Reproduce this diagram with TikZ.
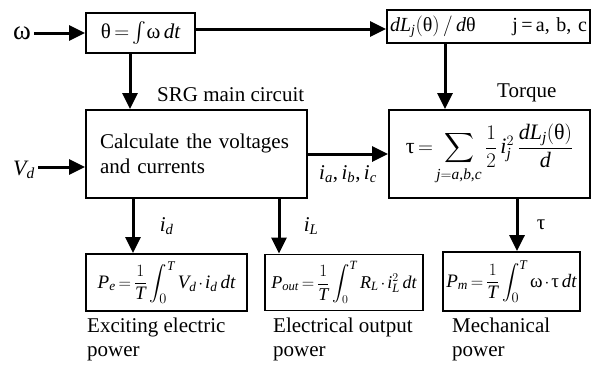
\documentclass[tikz,border=0pt]{standalone}
\usepackage{amsmath}
\usepackage{fontspec}
\setmainfont{Liberation Serif}
\newfontfamily\mathserif[NFSSFamily=lsr]{Liberation Serif}
\DeclareSymbolFont{letters}{TU}{lsr}{m}{it}
\DeclareSymbolFont{operators}{TU}{lsr}{m}{n}
\mathcode`\,="602C
\mathcode`\/="002F
\usetikzlibrary{arrows.meta}
\newcommand{\myth}{\text{θ}}
\newcommand{\myom}{\text{ω}}
\newcommand{\mytau}{\text{τ}}
\newcommand{\fs}[1]{\fontsize{#1}{#1}\selectfont\thickmuskip=3mu\medmuskip=2mu}

\begin{document}
\begin{tikzpicture}[x=1pt, y=-1pt, >={Triangle[length=16pt,width=15pt]},
	blk/.style={draw, line width=1.8pt, inner sep=0pt, font=\fs{21}},
	arr/.style={->, line width=3pt},
	lbl/.style={inner sep=0pt, font=\fontsize{21}{24}\selectfont}]
	\useasboundingbox (0,0) rectangle (591,368);
	
	\path (130,0) coordinate (xth)
	(445,0) coordinate (xdl)
	(133,0) coordinate (xid)
	(279,0) coordinate (xil)
	(517,0) coordinate (xtau)
	(0,29) coordinate (yth)
	(0,167) coordinate (yvd);
	
	% blocks
	\node[blk, minimum width=109pt, minimum height=40pt] (theta) at (140.5,33) {$\myth = \int\!\myom\, dt$};
	\node[blk, minimum width=203pt, minimum height=33pt, text width=197pt, font=\fs{20}] (dL) at (488.5,26.5)
	{$dL_j(\myth)\,/\,d\myth$\hfill j\,=\,a, b, c};
	\node[blk, minimum width=221pt, minimum height=88pt, text width=193pt, align=left,
	font=\fontsize{21}{25}\selectfont] (main) at (196.5,154) {Calculate the voltages\\and currents};
	\node[blk, minimum width=201pt, minimum height=88pt, font=\fs{22}] (torque) at (489.5,154)
	{$\mytau = \displaystyle\sum_{j=a,b,c}\frac{1}{2}\,i_j^2\,\frac{dL_j(\myth)}{d}$};
	\node[blk, minimum width=161pt, minimum height=57pt, font=\fs{19}] (pe) at (166.5,282.5)
	{$P_e = \dfrac{1}{T}\displaystyle\int_0^T V_d\cdot i_d\, dt$};
	\node[blk, minimum width=158pt, minimum height=56pt, font=\fs{18}] (pout) at (344,282.5)
	{$P_{out} = \dfrac{1}{T}\displaystyle\int_0^T R_L\cdot i_L^2\, dt$};
	\node[blk, minimum width=137pt, minimum height=59pt, font=\fs{19}] (pm) at (511.5,281.5)
	{$P_m = \dfrac{1}{T}\displaystyle\int_0^T \myom\cdot\mytau\, dt$};
	
	% inputs and titles
	\node[inner sep=3pt, font=\fs{27}] (w) at (22,33) {ω};
	\node[inner sep=3pt, font=\fs{22}] (vd) at (24,170) {$V_d$};
	\node[lbl, anchor=base west] (srg) at (157,101) {SRG main circuit};
	\node[lbl, anchor=base west] (torq) at (497,97) {Torque};
	
	% connectors
	\draw[arr] (w) -- (theta);
	\draw[arr] (theta.east |- yth) -- (dL.west |- yth);
	\draw[arr] (theta.south -| xth) -- (main.north -| xth);
	\draw[arr] (dL.south -| xdl) -- (torque.north -| xdl);
	\draw[arr] (vd.east |- yvd) -- (main.west |- yvd);
	\draw[arr] (main) -- node[below=7pt, font=\fs{21}] (iabc) {$i_a,i_b,i_c$} (torque);
	\draw[arr] (main.south -| xid) -- node[right=22pt, font=\fs{21}] (id) {$i_d$} (pe.north -| xid);
	\draw[arr] (main.south -| xil) -- node[right=20pt, font=\fs{21}] (il) {$i_L$} (pout.north -| xil);
	\draw[arr] (torque.south -| xtau) -- node[right=15pt, font=\fs{21}] (tau) {\mytau} (pm.north -| xtau);
	
	\foreach \p/\x/\txt in {pe/87/Exciting electric, pout/273/Electrical output, pm/452/Mechanical}
	\node[lbl, anchor=base west, align=left] (\p-lbl) at (\x,356) {\txt\\power};
\end{tikzpicture}
\end{document}
